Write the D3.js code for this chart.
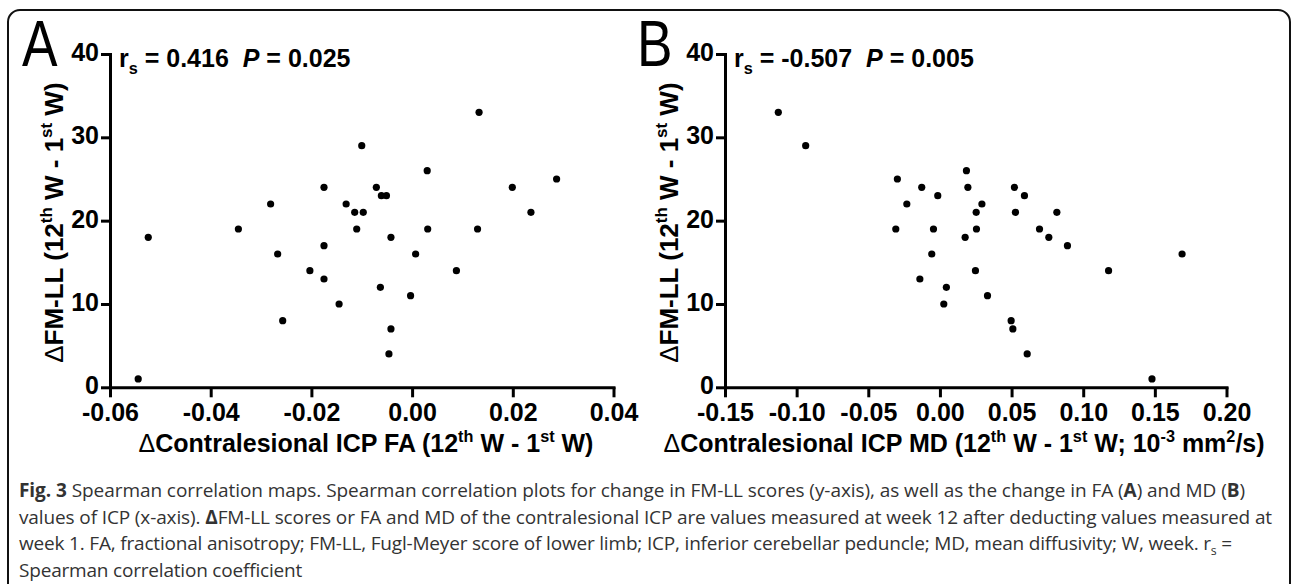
<!DOCTYPE html>
<html>
<head>
<meta charset="utf-8">
<script src="https://cdn.jsdelivr.net/npm/d3@7"></script>
<style>
  body { margin: 0; background: #fff; }
  svg text { font-family: 'Liberation Sans', Arial, sans-serif; }
  svg text.caption { font-family: 'Open Sans', sans-serif; }
</style>
</head>
<body>
<div id="chart"></div>
<script>
// Panel A: change in contralesional ICP FA (x) vs change in FM-LL (y)
const faChange = [-0.0544, -0.0524, -0.0345, 0.0133, -0.0100, 0.0030, -0.0175, -0.0071, -0.0061, -0.0051,
    -0.0281, -0.0131, -0.0114, -0.0097, -0.0110, 0.0031, 0.0130, -0.0042, -0.0175, -0.0267,
    0.0007, -0.0203, 0.0088, -0.0175, -0.0063, -0.0003, -0.0145, -0.0257, -0.0042, -0.0046,
    0.0287, 0.0199, 0.0236];
const fmA = [1, 18, 19, 33, 29, 26, 24, 24, 23, 23,
    22, 22, 21, 21, 19, 19, 19, 18, 17, 16,
    16, 14, 14, 13, 12, 11, 10, 8, 7, 4,
    25, 24, 21];

// Panel B: change in contralesional ICP MD (x) vs change in FM-LL (y)
const mdChange = [-0.1128, -0.0937, -0.0297, -0.0231, -0.0308, 0.0185, -0.0127, 0.0195, 0.0520, -0.0015,
    0.0590, 0.0293, 0.0253, 0.0527, 0.0816, -0.0045, 0.0255, 0.0695, 0.0176, 0.0760,
    0.0890, -0.0057, 0.0248, 0.1177, -0.0140, 0.0045, 0.0027, 0.0332, 0.0497, 0.0509,
    0.0609, 0.148, 0.169];
const fmB = [33, 29, 25, 22, 19, 26, 24, 24, 24, 23,
    23, 22, 21, 21, 21, 19, 19, 19, 18, 18,
    17, 16, 14, 14, 13, 12, 10, 11, 8, 7,
    4, 1, 16];

const yTicks = [0, 10, 20, 30, 40];
const faTicks = [-0.06, -0.04, -0.02, 0.00, 0.02, 0.04];
const mdTicks = [-0.15, -0.10, -0.05, 0.00, 0.05, 0.10, 0.15, 0.20];
const rsValues = ['0.416', '-0.507'];
const pValues = ['0.025', '0.005'];

const captionLines = [
    [{ t: 'Fig. 3', b: true }, { t: ' Spearman correlation maps. Spearman correlation plots for change in FM-LL scores (y-axis), as well as the change in FA (' },
     { t: 'A', b: true }, { t: ') and MD (' }, { t: 'B', b: true }, { t: ')' }],
    [{ t: 'values of ICP (x-axis). ' }, { t: 'Δ', b: true }, { t: 'FM-LL scores or FA and MD of the contralesional ICP are values measured at week 12 after deducting values measured at' }],
    [{ t: 'week 1. FA, fractional anisotropy; FM-LL, Fugl-Meyer score of lower limb; ICP, inferior cerebellar peduncle; MD, mean diffusivity; W, week. r' },
     { t: 's', sub: true }, { t: ' =' }],
    [{ t: 'Spearman correlation coefficient' }]
];
const captionEnds = [1245, 1272, 1232, 302];

const W = 1292, H = 584;
const plotTop = 54, plotBottom = 387.3;

// writes text parts into a <text>, handling bold / italic / super / sub
function richText(sel, parts, size) {
    let shift = 0;
    parts.forEach(p => {
        const want = p.sup ? -size * 0.42 : p.sub ? size * 0.28 : 0;
        sel.append('tspan')
            .attr('dy', want - shift)
            .attr('font-size', (p.sup || p.sub) ? size * 0.65 : null)
            .attr('font-weight', p.b ? 'bold' : p.w || null)
            .attr('font-style', p.i ? 'italic' : null)
            .text(p.t);
        shift = want;
    });
}

function drawPanel(svg, p) {
    const x = d3.scaleLinear().domain(d3.extent(p.ticks)).range([p.left, p.right]);
    const y = d3.scaleLinear().domain([0, 40]).range([plotBottom, plotTop]);

    // axes
    const gx = svg.append('g')
        .attr('transform', `translate(0,${plotBottom})`)
        .call(d3.axisBottom(x).tickValues(p.ticks).tickFormat(d => d.toFixed(2))
            .tickSize(10).tickSizeOuter(0).tickPadding(6));
    const gy = svg.append('g')
        .attr('transform', `translate(${p.left},0)`)
        .call(d3.axisLeft(y).tickValues(yTicks).tickSize(9).tickSizeOuter(0).tickPadding(2));

    [gx, gy].forEach(g => {
        g.attr('font-family', null).attr('font-size', null);
        g.select('.domain').attr('stroke', '#000').attr('stroke-width', 3).attr('stroke-linecap', 'square');
        g.selectAll('.tick line').attr('stroke', '#000').attr('stroke-width', 3);
        g.selectAll('.tick text').attr('fill', '#000').attr('font-size', 25).attr('font-weight', 'bold');
    });
    // y labels sit a bit higher than centre in the original
    gy.selectAll('.tick text').attr('dy', '0.26em');

    // points
    svg.append('g')
        .selectAll('circle')
        .data(p.xs)
        .enter()
        .append('circle')
        .attr('cx', d => x(d))
        .attr('cy', (d, i) => y(p.ys[i]))
        .attr('r', 3.6)
        .attr('fill', '#000');

    // panel letter (condensed)
    svg.append('text')
        .attr('transform', `translate(${p.left - 88},66) scale(0.82,1)`)
        .attr('font-size', 65)
        .text(p.letter);

    // spearman stats
    const st = svg.append('text')
        .attr('x', p.left + 9)
        .attr('y', 67)
        .attr('font-size', 25)
        .attr('font-weight', 'bold')
        .style('white-space', 'pre');
    richText(st, [{ t: 'r' }, { t: 's', sub: true }, { t: ' = ' + p.rs + '  ' }, { t: 'P', i: true }, { t: ' = ' + p.pv }], 25);

    // y title
    const yt = svg.append('text')
        .attr('transform', `translate(${p.left - 47},${(plotTop + plotBottom) / 2 + 2}) rotate(-90)`)
        .attr('text-anchor', 'middle')
        .attr('font-size', 26)
        .attr('font-weight', 'bold')
        .style('white-space', 'pre');
    richText(yt, [{ t: 'Δ', w: 'normal' }, { t: 'FM-LL (12' }, { t: 'th', sup: true }, { t: ' W - 1' }, { t: 'st', sup: true }, { t: ' W)' }], 26);

    // x title
    const xt = svg.append('text')
        .attr('x', p.titleX)
        .attr('y', 452)
        .attr('text-anchor', 'middle')
        .attr('font-size', 25)
        .attr('font-weight', 'bold')
        .style('white-space', 'pre');
    richText(xt, p.xTitle, 25);
}

function drawChart(selector) {
    const svg = d3.select(selector)
        .append('svg')
        .attr('width', W)
        .attr('height', H);

    // frame
    svg.append('rect')
        .attr('x', 8).attr('y', 10)
        .attr('width', 1282).attr('height', 640)
        .attr('rx', 12)
        .attr('fill', 'none')
        .attr('stroke', '#111')
        .attr('stroke-width', 2);

    drawPanel(svg, {
        letter: 'A', left: 110, right: 613.5, ticks: faTicks, xs: faChange, ys: fmA,
        rs: rsValues[0], pv: pValues[0], titleX: 366,
        xTitle: [{ t: 'Δ', w: 'normal' }, { t: 'Contralesional ICP FA (12' }, { t: 'th', sup: true }, { t: ' W - 1' }, { t: 'st', sup: true }, { t: ' W)' }]
    });
    drawPanel(svg, {
        letter: 'B', left: 725, right: 1226.5, ticks: mdTicks, xs: mdChange, ys: fmB,
        rs: rsValues[1], pv: pValues[1], titleX: 964,
        xTitle: [{ t: 'Δ', w: 'normal' }, { t: 'Contralesional ICP MD (12' }, { t: 'th', sup: true }, { t: ' W - 1' }, { t: 'st', sup: true },
                 { t: ' W; 10' }, { t: '-3', sup: true }, { t: ' mm' }, { t: '2', sup: true }, { t: '/s)' }]
    });

    // caption: fit each line to the original width by tightening letter spacing
    captionLines.forEach((line, i) => {
        const t = svg.append('text')
            .attr('class', 'caption')
            .attr('x', 19)
            .attr('y', 497 + i * 26.5)
            .attr('font-size', 19)
            .attr('fill', '#333')
            .style('white-space', 'pre');
        richText(t, line, 19);
        const natural = t.node().getComputedTextLength();
        const chars = line.reduce((n, p) => n + p.t.length, 0);
        t.attr('letter-spacing', ((captionEnds[i] - 19) - natural) / chars);
    });
}

drawChart('#chart');
</script>
</body>
</html>
